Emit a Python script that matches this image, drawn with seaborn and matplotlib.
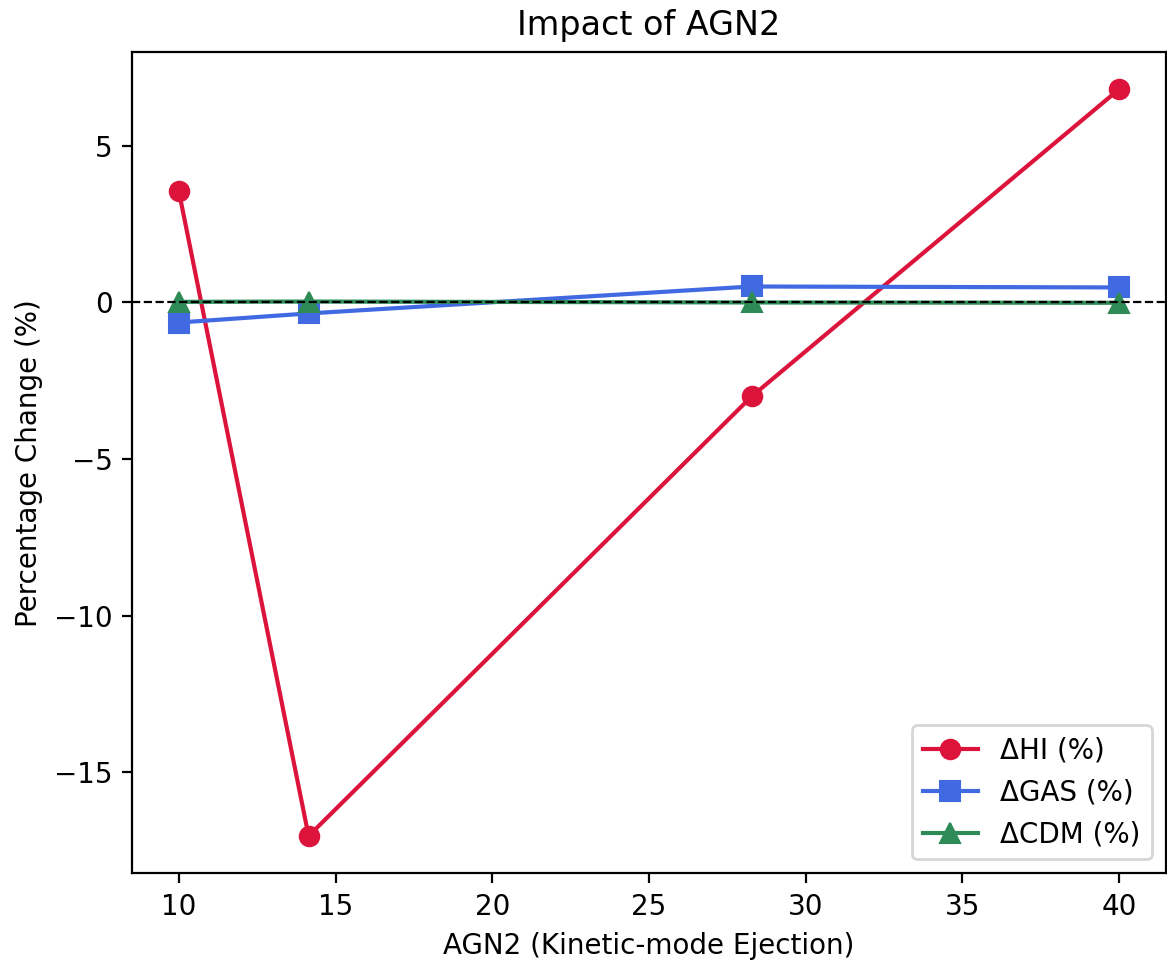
import matplotlib
matplotlib.use("Agg")
import matplotlib.pyplot as plt
import seaborn as sns
import pandas as pd

# Valores
agn2 = [10.0, 14.14, 28.28, 40.0]
delta_hi = [3.55, -17.03, -3.0, 6.8]
delta_gas = [-0.64, -0.35, 0.51, 0.48]
delta_cdm = [0.02, 0.03, 0.0, -0.01]

series = [
    ("ΔHI (%)", delta_hi, "crimson", "o"),
    ("ΔGAS (%)", delta_gas, "royalblue", "s"),
    ("ΔCDM (%)", delta_cdm, "seagreen", "^"),
]

dpi = 200
fig = plt.figure(figsize=(1167 / dpi, 965 / dpi), dpi=dpi)
ax = fig.add_axes([0.113, 0.095, 0.886, 0.851])

for etiqueta, valores, color, marcador in series:
    df = pd.DataFrame({"x": agn2, "y": valores})
    sns.lineplot(data=df, x="x", y="y", ax=ax, color=color, marker=marcador,
                 markersize=7, linewidth=1.5, markeredgecolor=color, label=etiqueta)

ax.axhline(0, color="black", linestyle="--", linewidth=0.8)
ax.set_title("Impact of AGN2")
ax.set_xlabel("AGN2 (Kinetic-mode Ejection)")
ax.set_ylabel("Percentage Change (%)")
ax.legend(loc="lower right")

fig.savefig("out.png", dpi=dpi)
